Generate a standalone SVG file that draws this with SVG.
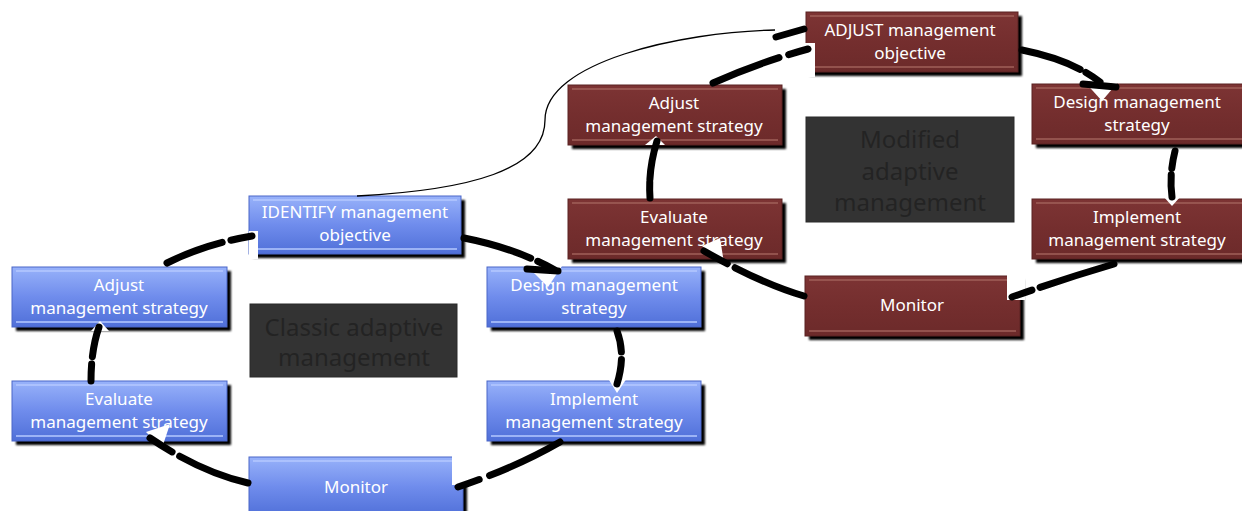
<svg xmlns="http://www.w3.org/2000/svg" width="1242" height="511" viewBox="0 0 1242 511">
<defs>
  <linearGradient id="gBlue" x1="0" y1="0" x2="0" y2="1">
    <stop offset="0" stop-color="#98b2fa"/>
    <stop offset="0.5" stop-color="#6f8cec"/>
    <stop offset="1" stop-color="#4f6fd8"/>
  </linearGradient>
  <linearGradient id="gRed" x1="0" y1="0" x2="0" y2="1">
    <stop offset="0" stop-color="#7d3434"/>
    <stop offset="0.5" stop-color="#742e2e"/>
    <stop offset="1" stop-color="#6c2a2a"/>
  </linearGradient>
  <filter id="sh" x="-10%" y="-10%" width="125%" height="130%">
    <feGaussianBlur stdDeviation="1"/>
  </filter>
</defs>
<style>
  .shadow { fill:#000; filter:url(#sh); }
  .blue { fill:url(#gBlue); stroke:#4a66c8; stroke-width:1; }
  .red { fill:url(#gRed); stroke:#5a2222; stroke-width:1; }
  .hlB { stroke:#b4c8ff; stroke-width:1.5; }
  .hlR { stroke:#a0605a; stroke-width:1.5; }
  .lbl { font-family:"Noto Sans","Open Sans",sans-serif; font-size:17px; fill:#ffffff; text-anchor:middle; }
  .big { font-family:"Noto Sans","Open Sans",sans-serif; font-size:24px; fill:#232323; text-anchor:middle; }
  .title { fill:#333333; stroke:#2a2a2a; stroke-width:1; }
  .conn { fill:none; stroke:#000; stroke-width:7; stroke-linecap:round; }
  .thin { fill:none; stroke:#000; stroke-width:1.3; }
  .cut { fill:#ffffff; }
</style>

<!-- title boxes -->
<g id="classic">
  <rect class="title" x="250" y="304" width="207" height="73"/>
  <text class="big" x="354" y="336">Classic adaptive</text>
  <text class="big" x="354" y="366">management</text>
</g>
<g id="modified">
  <rect class="title" x="806" y="117" width="208" height="105"/>
  <text class="big" x="910" y="148">Modified</text>
  <text class="big" x="910" y="180">adaptive</text>
  <text class="big" x="910" y="211">management</text>
</g>

<!-- blue nodes -->
<g id="identify">
  <rect class="shadow" x="253" y="200" width="212" height="58"/>
  <rect class="blue" x="249" y="196" width="212" height="58"/>
  <line class="hlB" x1="253" y1="200" x2="457" y2="200"/>
  <line class="hlB" x1="253" y1="249" x2="457" y2="249"/>
  <text class="lbl" x="355" y="218">IDENTIFY management</text>
  <text class="lbl" x="355" y="241">objective</text>
</g>
<g id="adjustB">
  <rect class="shadow" x="16" y="271" width="215" height="60"/>
  <rect class="blue" x="12" y="267" width="215" height="60"/>
  <line class="hlB" x1="16" y1="271" x2="223" y2="271"/>
  <line class="hlB" x1="16" y1="322" x2="223" y2="322"/>
  <text class="lbl" x="119" y="291">Adjust</text>
  <text class="lbl" x="119" y="314">management strategy</text>
</g>
<g id="evaluateB">
  <rect class="shadow" x="16" y="385" width="215" height="60"/>
  <rect class="blue" x="12" y="381" width="215" height="60"/>
  <line class="hlB" x1="16" y1="385" x2="223" y2="385"/>
  <line class="hlB" x1="16" y1="436" x2="223" y2="436"/>
  <text class="lbl" x="119" y="405">Evaluate</text>
  <text class="lbl" x="119" y="428">management strategy</text>
</g>
<g id="monitorB">
  <rect class="shadow" x="253" y="461" width="214" height="60"/>
  <rect class="blue" x="249" y="457" width="214" height="60"/>
  <line class="hlB" x1="253" y1="461" x2="459" y2="461"/>
  <text class="lbl" x="356" y="493">Monitor</text>
</g>
<g id="designB">
  <rect class="shadow" x="491" y="271" width="214" height="60"/>
  <rect class="blue" x="487" y="267" width="214" height="60"/>
  <line class="hlB" x1="491" y1="271" x2="697" y2="271"/>
  <line class="hlB" x1="491" y1="322" x2="697" y2="322"/>
  <text class="lbl" x="594" y="291">Design management</text>
  <text class="lbl" x="594" y="314">strategy</text>
</g>
<g id="implementB">
  <rect class="shadow" x="491" y="385" width="214" height="60"/>
  <rect class="blue" x="487" y="381" width="214" height="60"/>
  <line class="hlB" x1="491" y1="385" x2="697" y2="385"/>
  <line class="hlB" x1="491" y1="436" x2="697" y2="436"/>
  <text class="lbl" x="594" y="405">Implement</text>
  <text class="lbl" x="594" y="428">management strategy</text>
</g>

<!-- red nodes -->
<g id="adjustObj">
  <rect class="shadow" x="810" y="16" width="212" height="60"/>
  <rect class="red" x="806" y="12" width="212" height="60"/>
  <line class="hlR" x1="810" y1="16" x2="1014" y2="16"/>
  <line class="hlR" x1="810" y1="67" x2="1014" y2="67"/>
  <text class="lbl" x="910" y="36">ADJUST management</text>
  <text class="lbl" x="910" y="59">objective</text>
</g>
<g id="adjustR">
  <rect class="shadow" x="572" y="89" width="214" height="60"/>
  <rect class="red" x="568" y="85" width="214" height="60"/>
  <line class="hlR" x1="572" y1="89" x2="778" y2="89"/>
  <line class="hlR" x1="572" y1="140" x2="778" y2="140"/>
  <text class="lbl" x="674" y="109">Adjust</text>
  <text class="lbl" x="674" y="132">management strategy</text>
</g>
<g id="evaluateR">
  <rect class="shadow" x="572" y="203" width="214" height="60"/>
  <rect class="red" x="568" y="199" width="214" height="60"/>
  <line class="hlR" x1="572" y1="203" x2="778" y2="203"/>
  <line class="hlR" x1="572" y1="254" x2="778" y2="254"/>
  <text class="lbl" x="674" y="223">Evaluate</text>
  <text class="lbl" x="674" y="246">management strategy</text>
</g>
<g id="designR">
  <rect class="shadow" x="1036" y="88" width="214" height="60"/>
  <rect class="red" x="1032" y="84" width="214" height="60"/>
  <line class="hlR" x1="1036" y1="88" x2="1242" y2="88"/>
  <line class="hlR" x1="1036" y1="139" x2="1242" y2="139"/>
  <text class="lbl" x="1137" y="108">Design management</text>
  <text class="lbl" x="1137" y="131">strategy</text>
</g>
<g id="implementR">
  <rect class="shadow" x="1036" y="203" width="214" height="60"/>
  <rect class="red" x="1032" y="199" width="214" height="60"/>
  <line class="hlR" x1="1036" y1="203" x2="1242" y2="203"/>
  <line class="hlR" x1="1036" y1="254" x2="1242" y2="254"/>
  <text class="lbl" x="1137" y="223">Implement</text>
  <text class="lbl" x="1137" y="246">management strategy</text>
</g>
<g id="monitorR">
  <rect class="shadow" x="809" y="280" width="215" height="60"/>
  <rect class="red" x="805" y="276" width="215" height="60"/>
  <line class="hlR" x1="809" y1="280" x2="1016" y2="280"/>
  <line class="hlR" x1="809" y1="331" x2="1016" y2="331"/>
  <text class="lbl" x="912" y="311">Monitor</text>
</g>

<!-- connectors -->
<g id="connectors">
  <!-- white arrowhead wedges and corner cuts -->
  <rect class="cut" x="249" y="231" width="9" height="28"/>
  <rect class="cut" x="452" y="452" width="17" height="33"/>
  <rect class="cut" x="805" y="43" width="10" height="34"/>
  <rect class="cut" x="1007" y="274" width="18" height="26"/>
  <polygon class="cut" points="527,266 562,266 548,287"/>
  <polygon class="cut" points="609,380 627,378 617,393"/>
  <polygon class="cut" points="146,432 170,424 162,448"/>
  <polygon class="cut" points="91,331 109,331 100,321"/>
  <polygon class="cut" points="1083,80 1118,82 1102,101"/>
  <polygon class="cut" points="1163,196 1181,196 1172,206"/>
  <polygon class="cut" points="702,246 720,238 724,263"/>
  <polygon class="cut" points="645,145 665,145 656,136"/>

  <path class="thin" d="M357,196 C470,190 545,170 545,120 C545,62 680,32 775,30"/>
  <path class="conn" d="M776,37 L804,29"/>
  <!-- blue cycle -->
  <path class="conn" pathLength="100" stroke-dasharray="66 10 24 200" d="M167,263 Q 205,244 252,236"/>
  <path class="conn" pathLength="100" stroke-dasharray="72 8 20 200" d="M464,238 Q 515,248 555,270"/>
  <path class="conn" d="M527,269 L558,271"/>
  <path class="conn" pathLength="100" stroke-dasharray="40 14 46 200" d="M617,331 Q 626,355 617,384"/>
  <path class="conn" pathLength="100" stroke-dasharray="70 10 20 200" d="M560,442 Q 515,468 458,487"/>
  <path class="conn" pathLength="100" stroke-dasharray="68 8 24 200" d="M248,483 Q 200,472 150,438"/>
  <path class="conn" pathLength="100" stroke-dasharray="30 14 56 200" d="M91,381 Q 91,350 99,327"/>
  <!-- red cycle -->
  <path class="conn" pathLength="100" stroke-dasharray="70 10 20 200" d="M713,83 Q 760,62 808,49"/>
  <path class="conn" pathLength="100" stroke-dasharray="72 8 20 200" d="M1022,50 Q 1072,60 1100,82"/>
  <path class="conn" d="M1083,84 L1116,87"/>
  <path class="conn" pathLength="100" stroke-dasharray="38 14 48 200" d="M1175,151 Q 1169,175 1172,197"/>
  <path class="conn" pathLength="100" stroke-dasharray="72 8 20 200" d="M1114,264 Q 1060,280 1012,297"/>
  <path class="conn" pathLength="100" stroke-dasharray="68 8 24 200" d="M804,296 Q 760,283 704,251"/>
  <path class="conn" pathLength="100" stroke-dasharray="28 4 68 200" d="M650,198 Q 648,170 657,141"/>
</g>
</svg>
